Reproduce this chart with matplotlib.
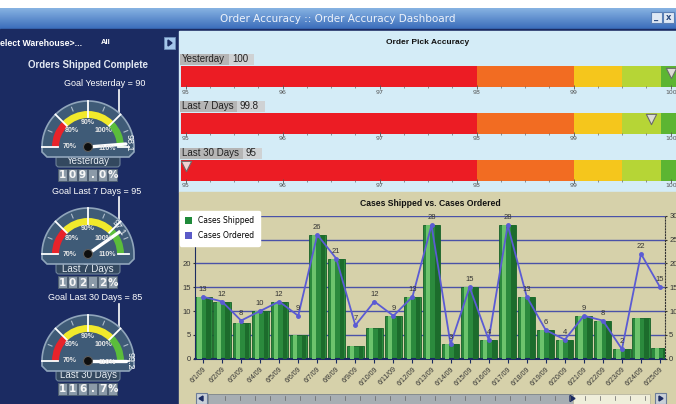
import numpy as np
import matplotlib
matplotlib.use("Agg")
import matplotlib.pyplot as plt
from matplotlib.patches import Rectangle, Wedge, Circle, Polygon, FancyBboxPatch, Patch
from matplotlib.colors import LinearSegmentedColormap

# ---- data ----
dates = ["6/1/09", "6/2/09", "6/3/09", "6/4/09", "6/5/09", "6/6/09", "6/7/09", "6/8/09",
         "6/9/09", "6/10/09", "6/11/09", "6/12/09", "6/13/09", "6/14/09", "6/15/09",
         "6/16/09", "6/17/09", "6/18/09", "6/19/09", "6/20/09", "6/21/09", "6/22/09",
         "6/23/09", "6/24/09", "6/25/09"]
cases_shipped = [13, 12, 7.5, 10, 12, 5, 26, 21, 2.7, 6.5, 9, 13, 28, 3, 15, 4, 28, 13,
                 6, 4, 9, 8, 2, 8.5, 2.3]
cases_ordered = [13, 12, 8, 10, 12, 9, 26, 21, 7, 12, 9, 13, 28, 3, 15, 4, 28, 13,
                 6, 4, 9, 8, 2, 22, 15]

pick_labels = ["Yesterday", "Last 7 Days", "Last 30 Days"]
pick_values = [100, 99.8, 95]
pick_ranges = [94.95, 98, 99, 99.5, 99.9, 100.1]
pick_colors = ["#ec1c24", "#f26c22", "#f5c61c", "#b6d536", "#5cb532"]

gauge_names = ["Yesterday", "Last 7 Days", "Last 30 Days"]
gauge_goals = [90, 95, 85]
gauge_values = [109.0, 102.2, 116.7]
gauge_side_text = ["98.1", "97.1", "99.2"]
gauge_bands = [(70, 80, "#e8232a"), (80, 100, "#f1e92b"), (100, 110, "#5bbd3b")]

W, H = 676, 404
NAVY = "#1b2b62"
ARIAL = "Liberation Sans"

fig = plt.figure(figsize=(W / 100, H / 100), dpi=100)
fig.patch.set_facecolor("white")


def ax_px(x0, y0, x1, y1):
    return fig.add_axes([x0 / W, 1 - y1 / H, (x1 - x0) / W, (y1 - y0) / H])


bg = fig.add_axes([0, 0, 1, 1])
bg.axis("off")

# title bar
grad = LinearSegmentedColormap.from_list("tb", ["#86b2e2", "#3b6dbb"])
bg.imshow(np.linspace(0, 1, 30).reshape(-1, 1), cmap=grad, aspect="auto",
          extent=[0, W, 29, 8], origin="upper", zorder=0)
bg.text(338, 19, "Order Accuracy :: Order Accuracy Dashboard", color="#eef3fb",
        fontsize=7.5, ha="center", va="center", family="DejaVu Sans")
for bx, glyph in [(651, "_"), (663, "x")]:
    bg.add_patch(Rectangle((bx, 12), 11, 11, fc="#dfe8f4", ec="#5a7fb5", lw=0.8))
    bg.text(bx + 5.5, 17, glyph, color="#2a4a80", fontsize=6, ha="center", va="center",
            weight="bold")

# panels
bg.add_patch(Rectangle((0, 29), W, H - 29, color=NAVY, zorder=0))
bg.add_patch(Rectangle((179, 31), W - 179, 161, color="#d4ecf7", zorder=0))
bg.add_patch(Rectangle((179, 192), W - 179, H - 192, color="#d6d1aa", zorder=0))

# left panel header
bg.text(0, 43, "elect Warehouse>...", color="white", fontsize=6.3, weight="bold",
        ha="left", va="center", family=ARIAL)
bg.text(106, 43, "All", color="white", fontsize=5.5, weight="bold", ha="center",
        va="center", family=ARIAL)
bg.add_patch(Rectangle((164, 37), 11, 12, fc="#a4c6ea", ec="#6f8fb8", lw=0.6))
bg.add_patch(Polygon([(168, 40), (168, 46), (172, 43)], color="#1b2b62"))
bg.text(88, 65, "Orders Shipped Complete", color="#e2e8f2", fontsize=7, weight="bold",
        ha="center", va="center", family=ARIAL)


def ang(v):
    return np.clip(180 - (v - 70) * 4.5, 0, 180)


goal_text_x = [105, 97, 95]
side_pos = [(41, 4, -90), (31, 26, -55), (42, 0, -90)]

for i in range(3):
    cx, cy = 88, 147 + 107 * i
    # goal text and leader line
    bg.text(goal_text_x[i], cy - 63, "Goal %s = %d" % (gauge_names[i], gauge_goals[i]),
            color="white", fontsize=6.5, ha="center", va="center", family=ARIAL)
    bg.plot([cx + 31, cx + 31, cx + 20], [cy - 57, cy - 34, cy - 22], color="white", lw=1.2)
    # plate and readout
    bg.add_patch(FancyBboxPatch((56, cy + 8), 64, 12, boxstyle="round,pad=0,rounding_size=3",
                                fc="#33485f", ec="#6e8399", lw=0.8, zorder=2))
    bg.text(88, cy + 14.5, gauge_names[i], color="#e6ecf2", fontsize=7, ha="center",
            va="center", zorder=3, family=ARIAL)
    readout = "%.1f%%" % gauge_values[i]
    for k, ch in enumerate(readout):
        tx = 58 + k * 10
        bg.add_patch(Rectangle((tx, cy + 22), 9, 12, fc="#8b9aa8", ec="#4e5e6e", lw=0.6, zorder=2))
        bg.text(tx + 4.5, cy + 28.5, ch, color="#f6f6f6", fontsize=7.5, weight="bold",
                ha="center", va="center", zorder=3)

    g = ax_px(cx - 50, cy - 50, cx + 50, cy + 50)
    g.set_xlim(-50, 50)
    g.set_ylim(-50, 50)
    g.axis("off")
    t = np.linspace(0, np.pi, 80)
    dome = list(zip(46 * np.cos(t), 46 * np.sin(t))) + [(-46, -5), (-41, -10), (41, -10), (46, -5)]
    g.add_patch(Polygon(dome, closed=True, fc="#3f5b77", ec="#90a5bb", lw=1.2))
    for lo, hi, col in gauge_bands:
        g.add_patch(Wedge((0, 0), 36, ang(hi), ang(lo), width=7, fc=col, ec="none"))
    for v in [75, 85, 95, 105]:
        a = np.radians(ang(v))
        g.plot([39 * np.cos(a), 43 * np.cos(a)], [39 * np.sin(a), 43 * np.sin(a)],
               color="#aebccb", lw=0.8)
    for v in [70, 80, 90, 100, 110]:
        a = np.radians(ang(v))
        r_out = 46 if v < 110 else 41
        g.plot([30 * np.cos(a), r_out * np.cos(a)], [30 * np.sin(a), r_out * np.sin(a)],
               color="white", lw=1.3)
    for v, (lx, ly) in zip([70, 80, 90, 100, 110], [(-18, 0), (-16, 16), (0, 25), (15, 16), (19, -1)]):
        g.text(lx, ly, "%d%%" % v, color="#e8e8e8", fontsize=5, weight="bold",
               ha="center", va="center", family=ARIAL)
    a = np.radians(ang(gauge_values[i]))
    g.plot([0, 38 * np.cos(a)], [0, 38 * np.sin(a)], color="white", lw=2.4,
           solid_capstyle="round")
    g.add_patch(Circle((0, 0), 4.5, fc="#0e0e0e", ec="#5c5c5c", lw=0.8, zorder=5))
    sx, sy, rot = side_pos[i]
    g.text(sx, sy, gauge_side_text[i], color="white", fontsize=6.5, rotation=rot,
           ha="center", va="center", zorder=6, family=ARIAL)

# ---- order pick accuracy bullets ----
bg.text(428, 42, "Order Pick Accuracy", fontsize=6, weight="bold", ha="center",
        va="center", color="#111", family=ARIAL)
bar_tops = [66.5, 113, 160]
label_w = [49, 57, 63]
val_w = [25, 28, 19]
for i in range(3):
    top = bar_tops[i]
    bg.add_patch(Rectangle((180, top - 12.5), label_w[i], 11, fc="#b5b5b5", ec="none"))
    bg.add_patch(Rectangle((180 + label_w[i], top - 12.5), val_w[i], 11, fc="#cfd2d4", ec="none"))
    bg.text(182, top - 7, pick_labels[i], fontsize=7, ha="left", va="center", color="#222",
            family=ARIAL)
    bg.text(180 + label_w[i] + 3, top - 7, "%g" % pick_values[i], fontsize=7, ha="left",
            va="center", color="#222", family=ARIAL)

    b = ax_px(181, top, 676, top + 20.5)
    b.set_xlim(94.952, 100.055)
    b.set_ylim(0, 1)
    for lo, hi, col in zip(pick_ranges[:-1], pick_ranges[1:], pick_colors):
        b.barh(0.5, hi - lo, left=lo, height=1, color=col, lw=0)
    mfc = "#f2d2d2" if pick_values[i] < 98 else "#dcdcd4"
    b.scatter([pick_values[i]], [0.7], marker="v", s=55, fc=mfc, ec="#6b6b6b", lw=0.8,
              zorder=5, clip_on=False)
    b.set_xticks(np.arange(95, 101, 1))
    b.set_xticklabels([str(v) for v in range(95, 101)])
    b.set_xticks(np.arange(95, 100.01, 0.25), minor=True)
    b.tick_params(axis="x", which="major", direction="inout", length=3, width=0.6,
                  color="#555", labelsize=4.5, labelcolor="#555", pad=0.5)
    b.tick_params(axis="x", which="minor", direction="inout", length=2, width=0.5, color="#666")
    b.set_yticks([])
    for s in b.spines.values():
        s.set_visible(False)

# ---- cases shipped vs ordered ----
bg.text(430, 203, "Cases Shipped vs. Cases Ordered", fontsize=6.2, weight="bold",
        ha="center", va="center", color="#111", family=ARIAL)
ax = ax_px(195, 215.7, 665, 358.7)
ax.patch.set_alpha(0)
x = np.arange(len(dates))
ax.bar(x, cases_shipped, width=0.9, color="#2b8a3d", edgecolor="#176027", lw=0.6, zorder=2)
ax.bar(x - 0.18, cases_shipped, width=0.22, color="#6cc36c", lw=0, zorder=3)
ax.bar(x + 0.3, cases_shipped, width=0.24, color="#1c6c2c", lw=0, zorder=3)
ax.plot(x, cases_ordered, color="#5b5bd4", lw=1.3, marker="o", ms=2.5, zorder=4)
for xi, v in zip(x, cases_ordered):
    ax.text(xi, v + 0.8, "%g" % v, fontsize=5.5, ha="center", va="bottom", color="#333",
            zorder=5, family=ARIAL)
ax.set_xlim(-0.42, 24.26)
ax.set_ylim(0, 30)
ax.set_yticks(range(0, 31, 5))
ax.yaxis.grid(True, color="#4a52a8", lw=1)
ax.set_axisbelow(True)
ax.set_xticks(x)
ax.set_xticklabels(dates, rotation=45, ha="right", va="top", rotation_mode="anchor",
                   fontsize=5, color="#333", family=ARIAL)
ax.tick_params(axis="x", length=3, color="#1b2b62", pad=2)
ax.tick_params(axis="y", labelsize=5.5, labelcolor="#333", length=0, pad=3,
               labelright=True, right=True)
ax.tick_params(axis="y", which="both", right=True, length=2, color="#333")
ax.tick_params(axis="y", which="both", right=True, length=1.5, pad=1.5)
for lbl in ax.get_yticklabels():
    lbl.set_family(ARIAL)
ax.spines["top"].set_visible(False)
ax.spines["left"].set_color("#1b2b62")
ax.spines["bottom"].set_color("#1b2b62")
ax.spines["bottom"].set_linewidth(1.5)
ax.spines["right"].set_linestyle(":")
ax.spines["right"].set_color("#333")

leg = fig.legend(handles=[Patch(fc="#1f8a3a"), Patch(fc="#5b5bc8")],
                 labels=["Cases Shipped", "Cases Ordered"], loc="upper left",
                 bbox_to_anchor=(176 / W, 1 - 207 / H), fontsize=5.5, frameon=True,
                 facecolor="white", edgecolor="white", framealpha=1, fancybox=True,
                 handlelength=0.9, handleheight=0.9, borderpad=0.7, labelspacing=0.8,
                 handletextpad=0.8)
leg.set_zorder(10)

# scrollbar
bg.add_patch(Rectangle((196, 393), 11, 11, fc="#c9d0d8", ec="#6d7e99", lw=0.8))
bg.add_patch(Polygon([(203, 396), (203, 401), (199, 398.5)], color=NAVY))
bg.add_patch(Rectangle((208, 394), 365, 10, fc="#a7aeb3", ec="#7c848a", lw=0.6))
bg.add_patch(Rectangle((573, 394), 77, 10, fc="#efeedb", ec="#b8b6a0", lw=0.6))
for tx in np.arange(225, 650, 15):
    bg.plot([tx, tx], [396, 400], color="#666", lw=0.5)
bg.add_patch(Polygon([(570, 395.5), (570, 401.5), (575, 398.5)], color=NAVY))
bg.add_patch(Rectangle((655, 393), 11, 11, fc="#c9d0d8", ec="#6d7e99", lw=0.8))
bg.add_patch(Polygon([(659, 396), (659, 401), (663, 398.5)], color=NAVY))

bg.set_xlim(0, W)
bg.set_ylim(H, 0)

fig.savefig("out.png", dpi=100)
